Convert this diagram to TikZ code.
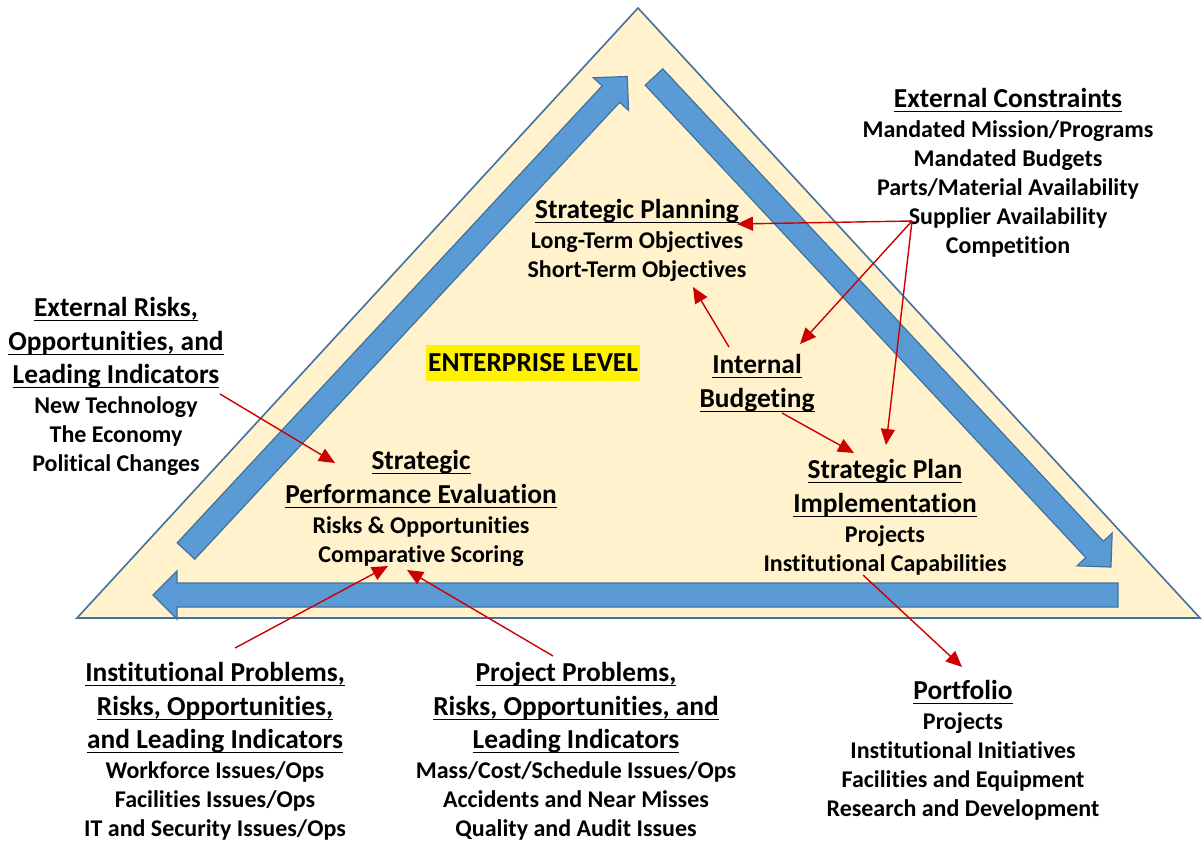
\documentclass[tikz,border=0pt]{standalone}
\usepackage{fontspec}
\setmainfont{Carlito}[Ligatures=NoCommon]
\usetikzlibrary{arrows.meta}

\definecolor{triFill}{HTML}{FFF2CC}
\definecolor{triLine}{HTML}{41719C}
\definecolor{flowFill}{HTML}{5B9BD5}
\definecolor{linkRed}{HTML}{CC0000}

% titulo subrayado
\newcommand{\hd}[1]{{\fontsize{13.7}{16}\selectfont\setbox0=\hbox{#1}\rlap{\rule[-2.4pt]{\wd0}{0.7pt}}\box0}}

\tikzset{
	block/.style={align=center, anchor=north, inner sep=0pt, font=\bfseries\fontsize{12}{14.5}\selectfont},
	flow/.style={fill=flowFill, draw=triLine, line width=0.6pt},
	link/.style={draw=linkRed, line width=0.7pt, -{Triangle[length=8pt,width=7pt]}},
}

\begin{document}
\begin{tikzpicture}[x=0.5pt, y=-0.5pt]
	\useasboundingbox (0,0) rectangle (1202,841);
	% Triangulo
		\draw[fill=triFill, draw=triLine, line width=0.8pt] (638,8) -- (77,618) -- (1200,618) -- cycle;
	% Flechas del ciclo
		\draw[flow, shift={(186,551)}, rotate=47.08] (0,-12) -- (624,-12) -- (624,-24) -- (648,0) -- (624,24) -- (624,12) -- (0,12) -- cycle;
		\draw[flow, shift={(654,77)}, rotate=-47] (0,-12) -- (646,-12) -- (646,-24) -- (670,0) -- (646,24) -- (646,12) -- (0,12) -- cycle;
		\draw[flow, shift={(1118,595)}, rotate=180] (0,-12) -- (941,-12) -- (941,-24) -- (965,0) -- (941,24) -- (941,12) -- (0,12) -- cycle;
	% Bloques de texto
		\node[block] (constraints) at (1008,88) {\hd{External Constraints}\\[0.5pt] Mandated Mission/Programs\\ Mandated Budgets\\ Parts/Material Availability\\ Supplier Availability\\ Competition};
		\node[block] (planning) at (637,199) {\hd{Strategic Planning}\\[0.5pt] Long-Term Objectives\\ Short-Term Objectives};
		\node[block] (extrisks) at (116,297) {\hd{External Risks,}\\[2.25pt] \hd{Opportunities, and}\\[2.25pt] \hd{Leading Indicators}\\[0.5pt] New Technology\\ The Economy\\ Political Changes};
		\node[block, anchor=center, fill=yellow, minimum width=107pt, minimum height=18pt, font=\bfseries\fontsize{13.7}{16}\selectfont] (level) at (533,363) {ENTERPRISE LEVEL};
		\node[block] (budget) at (757,354) {\hd{Internal}\\[2.25pt] \hd{Budgeting}};
		\node[block] (evaluation) at (421,450) {\hd{Strategic}\\[2.25pt] \hd{Performance Evaluation}\\[0.5pt] Risks \& Opportunities\\ Comparative Scoring};
		\node[block] (implement) at (885,459) {\hd{Strategic Plan}\\[2.25pt] \hd{Implementation}\\[0.5pt] Projects\\ Institutional Capabilities};
		\node[block] (instprob) at (215,662) {\hd{Institutional Problems,}\\[2.25pt] \hd{Risks, Opportunities,}\\[2.25pt] \hd{and Leading Indicators}\\[0.5pt] Workforce Issues/Ops\\ Facilities Issues/Ops\\ IT and Security Issues/Ops};
		\node[block] (projprob) at (576,662) {\hd{Project Problems,}\\[2.25pt] \hd{Risks, Opportunities, and}\\[2.25pt] \hd{Leading Indicators}\\[0.5pt] Mass/Cost/Schedule Issues/Ops\\ Accidents and Near Misses\\ Quality and Audit Issues};
		\node[block] (portfolio) at (963,680) {\hd{Portfolio}\\[0.5pt] Projects\\ Institutional Initiatives\\ Facilities and Equipment\\ Research and Development};
	% Puntos de las flechas rojas
		\coordinate (supplier) at (912,221);
		\coordinate (planning in) at (737,224);
		\coordinate (budget in) at (800,344);
		\coordinate (implement in) at (886,445);
		\coordinate (budget top) at (729,347);
		\coordinate (planning low) at (693,287);
		\coordinate (budget low) at (782,413);
		\coordinate (implement left) at (854,453);
		\coordinate (extrisks out) at (220,394);
		\coordinate (evaluation in) at (335,463);
		\coordinate (capab out) at (863,575);
		\coordinate (portfolio in) at (962,667);
		\coordinate (instprob out) at (235,648);
		\coordinate (scoring left) at (388,566);
		\coordinate (projprob out) at (553,656);
		\coordinate (scoring right) at (407,570);
	% Flechas rojas
		\draw[link] (supplier) -- (planning in);
		\draw[link] (supplier) -- (budget in);
		\draw[link] (supplier) -- (implement in);
		\draw[link] (budget top) -- (planning low);
		\draw[link] (budget low) -- (implement left);
		\draw[link] (extrisks out) -- (evaluation in);
		\draw[link] (capab out) -- (portfolio in);
		\draw[link] (instprob out) -- (scoring left);
		\draw[link] (projprob out) -- (scoring right);
\end{tikzpicture}
\end{document}
